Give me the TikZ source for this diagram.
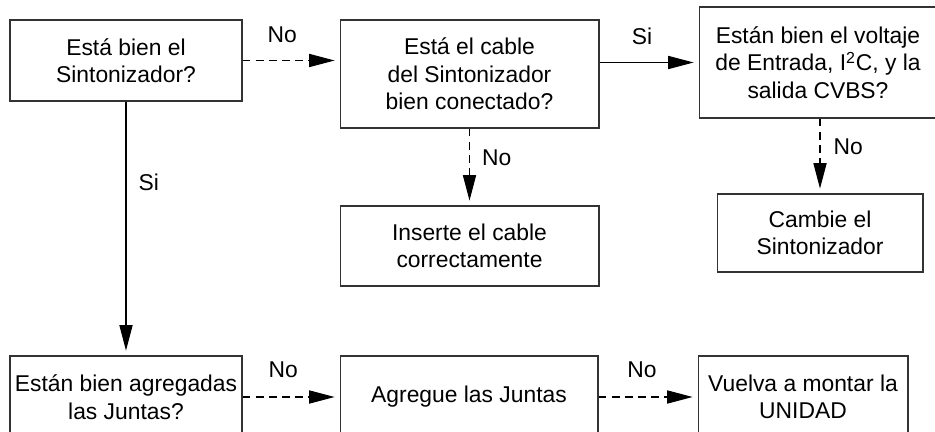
\documentclass[tikz,border=0pt]{standalone}
\usepackage{fontspec}
\setmainfont{Liberation Sans}
\usetikzlibrary{arrows.meta}

\begin{document}
\begin{tikzpicture}[x=0.02cm,y=-0.02cm,
		box/.style={draw=black!80,line width=0.6pt,align=center,inner sep=0pt,font=\fontsize{13}{15.6}\selectfont},
		si/.style={line width=0.6pt,-{Triangle[length=14.5pt,width=7.5pt]},shorten >=2.8pt},
		no/.style={si,dash pattern=on 4.5pt off 3pt},
		lbl/.style={inner sep=0pt,font=\fontsize{13}{15.6}\selectfont}]
		\clip (0,0) rectangle (935,432);
		
		% fila de arriba
		\node[box,minimum width=4.64cm,minimum height=1.62cm] (sint) at (126,60.5) {Está bien el\\Sintonizador?};
		\node[box,minimum width=5.18cm,minimum height=2.16cm] (cable) at (469.5,74) {Está el cable\\del Sintonizador\\bien conectado?};
		\node[box,minimum width=4.76cm,minimum height=2.22cm] (volt) at (818,62.5) {Están bien el voltaje\\de Entrada, I\textsuperscript{2}C, y la\\salida CVBS?};
		
		% fila del medio
		\node[box,minimum width=5.18cm,minimum height=1.6cm] (inserte) at (469.5,246) {Inserte el cable\\correctamente};
		\node[box,minimum width=4.12cm,minimum height=1.56cm] (cambie) at (820,233) {Cambie el\\Sintonizador};
		
		% fila de abajo
		\node[box,minimum width=4.64cm,minimum height=1.64cm] (juntas) at (126,397) {Están bien agregadas\\las Juntas?};
		\node[box,minimum width=5.16cm,minimum height=1.64cm] (agregue) at (469,397) {Agregue las Juntas};
		\node[box,minimum width=4.2cm,minimum height=1.64cm] (unidad) at (803,397) {Vuelva a montar la\\UNIDAD};
		
		\draw[no] (sint.east) -- node[lbl,pos=0.41,above=0.34cm] (n1) {No} (sint.east -| cable.west);
		\draw[si] (volt.west -| cable.east) -- node[lbl,pos=0.43,above=0.34cm] (s1) {Si} (volt.west);
		\draw[no] (cable.south) -- node[lbl,pos=0.38,right=0.24cm] (n2) {No} (inserte.north);
		\draw[no] (cambie.north |- volt.south) -- node[lbl,pos=0.38,right=0.26cm] (n3) {No} (cambie.north);
		\draw[si] (sint.south) -- node[lbl,pos=0.32,right=0.24cm] (s2) {Si} (juntas.north);
		\draw[no] (juntas.east) -- node[lbl,pos=0.42,above=0.38cm] (n4) {No} (agregue.west);
		\draw[no] (agregue.east) -- node[lbl,pos=0.44,above=0.38cm] (n5) {No} (unidad.west);
	\end{tikzpicture}
\end{document}
